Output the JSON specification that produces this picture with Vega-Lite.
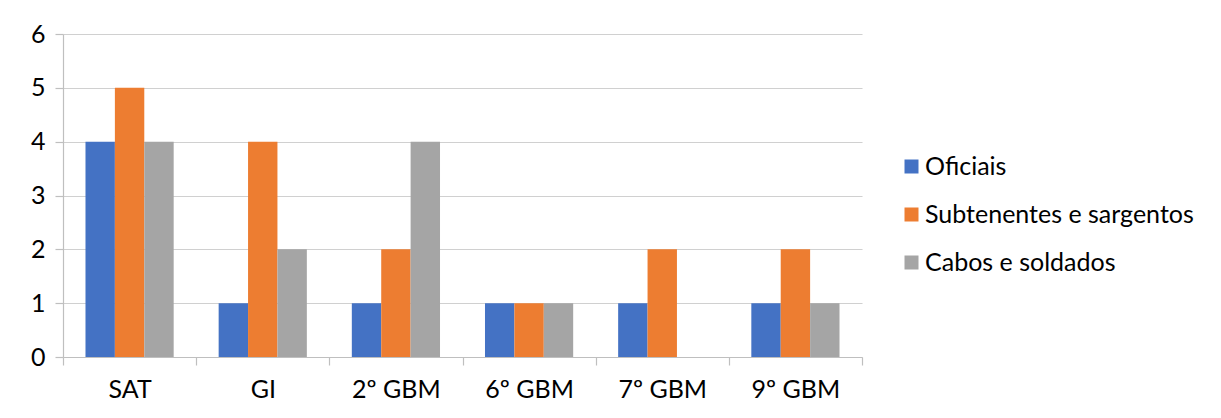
{
  "$schema": "https://vega.github.io/schema/vega-lite/v6.json",
  "width": 799,
  "height": 323,
  "autosize": {"type": "none"},
  "padding": {"left": 63, "top": 34, "right": 359, "bottom": 61},
  "background": "white",
  "data": {
    "values": [
      {"unidade": "SAT", "posto": "Oficiais", "total": 4},
      {"unidade": "SAT", "posto": "Subtenentes e sargentos", "total": 5},
      {"unidade": "SAT", "posto": "Cabos e soldados", "total": 4},
      {"unidade": "GI", "posto": "Oficiais", "total": 1},
      {"unidade": "GI", "posto": "Subtenentes e sargentos", "total": 4},
      {"unidade": "GI", "posto": "Cabos e soldados", "total": 2},
      {"unidade": "2º GBM", "posto": "Oficiais", "total": 1},
      {"unidade": "2º GBM", "posto": "Subtenentes e sargentos", "total": 2},
      {"unidade": "2º GBM", "posto": "Cabos e soldados", "total": 4},
      {"unidade": "6º GBM", "posto": "Oficiais", "total": 1},
      {"unidade": "6º GBM", "posto": "Subtenentes e sargentos", "total": 1},
      {"unidade": "6º GBM", "posto": "Cabos e soldados", "total": 1},
      {"unidade": "7º GBM", "posto": "Oficiais", "total": 1},
      {"unidade": "7º GBM", "posto": "Subtenentes e sargentos", "total": 2},
      {"unidade": "7º GBM", "posto": "Cabos e soldados", "total": 0},
      {"unidade": "9º GBM", "posto": "Oficiais", "total": 1},
      {"unidade": "9º GBM", "posto": "Subtenentes e sargentos", "total": 2},
      {"unidade": "9º GBM", "posto": "Cabos e soldados", "total": 1}
    ]
  },
  "mark": {"type": "bar"},
  "encoding": {
    "x": {
      "field": "unidade",
      "type": "nominal",
      "sort": ["SAT", "GI", "2º GBM", "6º GBM", "7º GBM", "9º GBM"],
      "scale": {"paddingInner": 0, "paddingOuter": 0},
      "axis": {
        "title": null,
        "labelAngle": 0,
        "labelPadding": 12,
        "tickBand": "extent",
        "tickSize": 8,
        "domainColor": "#BFBFBF",
        "tickColor": "#BFBFBF"
      }
    },
    "xOffset": {
      "field": "posto",
      "type": "nominal",
      "sort": ["Oficiais", "Subtenentes e sargentos", "Cabos e soldados"],
      "scale": {"paddingInner": 0, "paddingOuter": 0.765}
    },
    "y": {
      "field": "total",
      "type": "quantitative",
      "scale": {"domain": [0, 6], "nice": false},
      "axis": {
        "title": null,
        "values": [0, 1, 2, 3, 4, 5, 6],
        "labelOverlap": false,
        "tickSize": 8,
        "labelPadding": 10,
        "domain": true,
        "domainColor": "#BFBFBF",
        "tickColor": "#BFBFBF",
        "gridColor": "#D0D0D0"
      }
    },
    "color": {
      "field": "posto",
      "type": "nominal",
      "sort": ["Oficiais", "Subtenentes e sargentos", "Cabos e soldados"],
      "scale": {
        "domain": ["Oficiais", "Subtenentes e sargentos", "Cabos e soldados"],
        "range": ["#4472C4", "#ED7D31", "#A5A5A5"]
      },
      "legend": {
        "title": null,
        "orient": "none",
        "legendX": 836,
        "legendY": 120,
        "symbolType": "square",
        "symbolSize": 196,
        "symbolStrokeWidth": 0,
        "labelOffset": 1,
        "rowPadding": 22
      }
    }
  },
  "config": {
    "font": "Lato",
    "view": {"stroke": null},
    "axis": {
      "labelFont": "Lato",
      "labelFontSize": 25,
      "labelColor": "#000000",
      "domainWidth": 1.2,
      "tickWidth": 1.2,
      "gridWidth": 1.2
    },
    "axisX": {"grid": false},
    "legend": {
      "labelFont": "Lato",
      "labelFontSize": 25,
      "labelColor": "#000000",
      "labelLimit": 400
    }
  }
}
